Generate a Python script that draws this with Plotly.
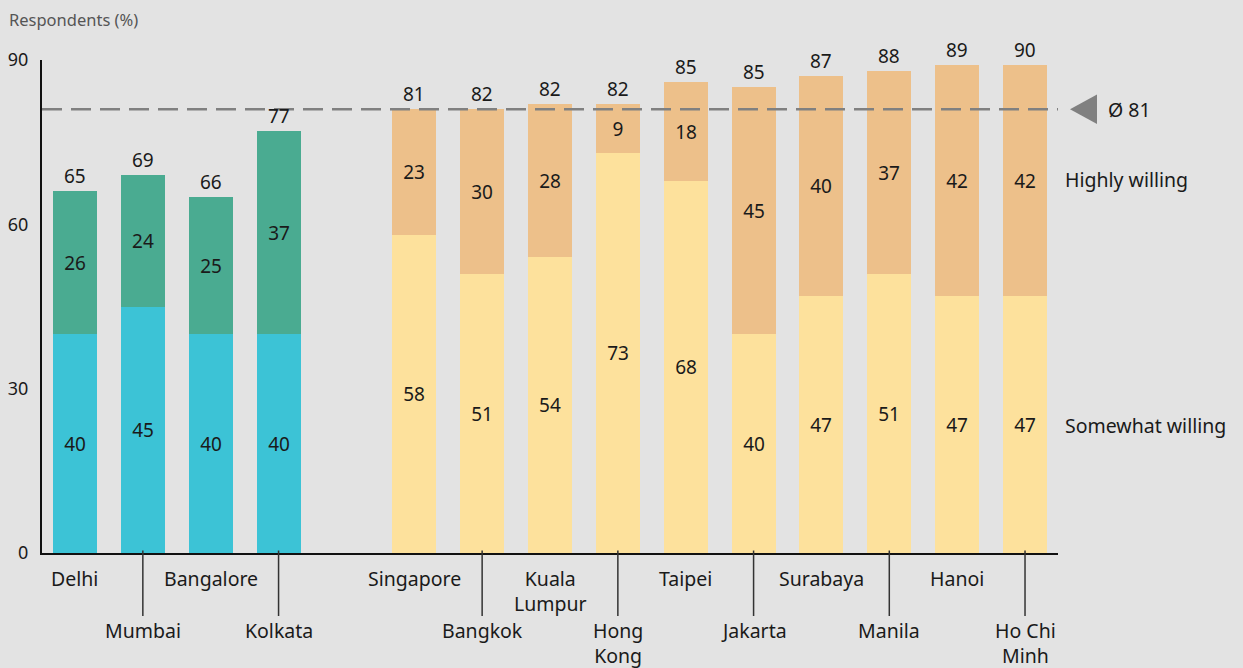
import plotly.graph_objects as go

# Willingness by city, in percent of respondents
india_cities = ["Delhi", "Mumbai", "Bangalore", "Kolkata"]
india_somewhat = [40, 45, 40, 40]
india_highly = [26, 24, 25, 37]
india_total = [65, 69, 66, 77]

sea_cities = ["Singapore", "Bangkok", "Kuala<br>Lumpur", "Hong<br>Kong", "Taipei",
              "Jakarta", "Surabaya", "Manila", "Hanoi", "Ho Chi<br>Minh"]
sea_somewhat = [58, 51, 54, 73, 68, 40, 47, 51, 47, 47]
sea_highly = [23, 30, 28, 9, 18, 45, 40, 37, 42, 42]
sea_total = [81, 82, 82, 82, 85, 85, 87, 88, 89, 90]

average = 81
y_ticks = [0, 30, 60, 90]

# slot positions: Indian cities, one empty slot, then the rest
india_x = list(range(len(india_cities)))
sea_x = [len(india_cities) + 1 + i for i in range(len(sea_cities))]

FONT = "Noto Sans"
TEXT = "#1a1a1a"
BG = "#e3e3e3"
C_TEAL, C_CYAN = "#4aab91", "#3cc3d6"
C_ORANGE, C_YELLOW = "#edc08a", "#fde19c"
BAR_W = 0.65
NUM_SIZE = 19
LABEL_SIZE = 19.5

fig = go.Figure()


def add_stack(xs, values, color):
    fig.add_trace(go.Bar(
        x=xs, y=values, width=BAR_W, marker=dict(color=color, line=dict(width=0)),
        text=[str(v) for v in values], textposition="inside", insidetextanchor="middle",
        textfont=dict(family=FONT, size=NUM_SIZE, color=TEXT), hoverinfo="skip",
        showlegend=False, cliponaxis=False,
    ))


add_stack(india_x, india_somewhat, C_CYAN)
add_stack(india_x, india_highly, C_TEAL)
add_stack(sea_x, sea_somewhat, C_YELLOW)
add_stack(sea_x, sea_highly, C_ORANGE)

annotations = []
shapes = []

# totals above each stack
for xs, lo, hi, tot in [(india_x, india_somewhat, india_highly, india_total),
                        (sea_x, sea_somewhat, sea_highly, sea_total)]:
    for x, a, b, t in zip(xs, lo, hi, tot):
        annotations.append(dict(x=x, y=a + b, xref="x", yref="y", text=str(t),
                                showarrow=False, yanchor="bottom", yshift=0,
                                font=dict(family=FONT, size=NUM_SIZE, color=TEXT)))

# category labels on two staggered rows, lower row hangs from a leader line
all_x = india_x + sea_x
all_names = india_cities + sea_cities
for i, (x, name) in enumerate(zip(all_x, all_names)):
    lower = i % 2 == 1
    y_top = -(615 - 553) / 493 if lower else -(563 - 553) / 493
    annotations.append(dict(x=x, y=y_top, xref="x", yref="paper", text=name,
                            showarrow=False, yanchor="top", align="center",
                            font=dict(family=FONT, size=LABEL_SIZE, color=TEXT)))
    if lower:
        shapes.append(dict(type="line", xref="x", yref="paper", x0=x, x1=x,
                           y0=0.005, y1=-(616 - 553) / 493,
                           line=dict(color="#333333", width=1.5)))

# average reference line with marker
shapes.append(dict(type="line", xref="paper", yref="y", x0=0, x1=1.0, y0=average, y1=average,
                   line=dict(color="#808080", width=2.5, dash="20px,9px"), layer="above"))
PW = 1016.0
shapes.append(dict(type="path", xref="paper", yref="y",
                   path=f"M {(1070-42)/PW},{average} L {(1097-42)/PW},{average+2.7} "
                        f"L {(1097-42)/PW},{average-2.7} Z",
                   fillcolor="#808080", line=dict(width=0)))
annotations.append(dict(x=(1106 - 42) / PW, y=average, xref="paper", yref="y",
                        text="Ø 81", showarrow=False, xanchor="left", yanchor="middle",
                        font=dict(family=FONT, size=LABEL_SIZE, color=TEXT)))
annotations.append(dict(x=(1063 - 42) / PW, y=(553 - 179) / 5.478, xref="paper", yref="y",
                        text="Highly willing", showarrow=False, xanchor="left",
                        yanchor="middle",
                        font=dict(family=FONT, size=LABEL_SIZE, color=TEXT)))
annotations.append(dict(x=(1063 - 42) / PW, y=(553 - 425) / 5.478, xref="paper", yref="y",
                        text="Somewhat willing", showarrow=False, xanchor="left",
                        yanchor="middle",
                        font=dict(family=FONT, size=LABEL_SIZE, color=TEXT)))
annotations.append(dict(x=(7 - 42) / PW, y=(553 - 19) / 493, xref="paper", yref="paper",
                        text="Respondents (%)", showarrow=False, xanchor="left",
                        yanchor="middle",
                        font=dict(family=FONT, size=16.5, color="#555555")))

fig.update_layout(
    width=1243, height=668, barmode="stack", bargap=0,
    paper_bgcolor=BG, plot_bgcolor=BG,
    margin=dict(l=42, r=185, t=60, b=115, autoexpand=False),
    font=dict(family=FONT, size=18, color=TEXT),
    xaxis=dict(range=[-0.486, 14.486], showticklabels=False, showgrid=False, zeroline=False,
               showline=True, linecolor="#111111", linewidth=2, fixedrange=True,
               automargin=False),
    yaxis=dict(range=[0, 90], tickvals=y_ticks, showgrid=False, zeroline=False,
               showline=True, linecolor="#111111", linewidth=2, ticks="outside",
               ticklen=8, tickcolor="rgba(0,0,0,0)", automargin=False,
               tickfont=dict(family=FONT, size=18, color=TEXT), fixedrange=True),
    annotations=annotations, shapes=shapes,
)

fig.write_html("out.html")
